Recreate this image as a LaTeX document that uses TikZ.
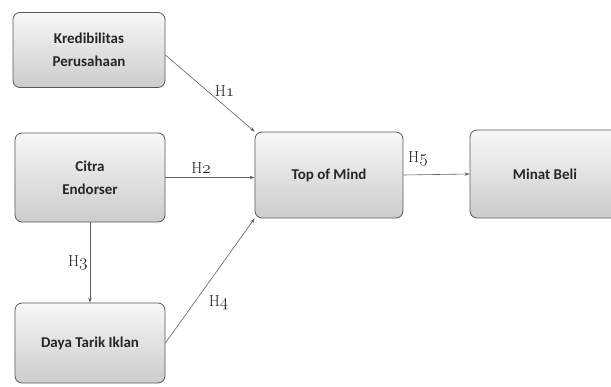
\documentclass[tikz,border=0pt]{standalone}
\usepackage{fontspec}
\setmainfont{Carlito}
\newcommand\osnum[1]{{\usefont{OML}{cmm}{m}{it}#1}}
\usetikzlibrary{arrows.meta}
\tikzset{
  varbox/.style={draw=gray!70!black, line width=0.8pt, rounded corners=7pt,
    top color=gray!6, bottom color=gray!40, align=center, text=black!85,
    font=\bfseries\fontsize{15}{23}\selectfont, inner sep=0pt},
  link/.style={draw=gray!75!black, line width=0.6pt, -{Stealth[length=5pt,width=3.5pt]}},
  hlab/.style={font=\usefont{TU}{lmr}{m}{n}\fontsize{16}{16}\selectfont, text=black!85, inner sep=1pt}
}
\begin{document}
\begin{tikzpicture}[x=1pt,y=-1pt]
\useasboundingbox (0,0) rectangle (611,386);
\node[varbox, minimum width=152pt, minimum height=75pt] (kp) at (89,50) {Kredibilitas\\Perusahaan};
\node[varbox, minimum width=150pt, minimum height=89pt] (ce) at (90,177.5) {Citra\\Endorser};
\node[varbox, minimum width=150pt, minimum height=80pt] (dt) at (90,343) {Daya Tarik Iklan};
\node[varbox, minimum width=148pt, minimum height=86pt] (tm) at (329,175) {Top of Mind};
\node[varbox, minimum width=150pt, minimum height=88pt] (mb) at (545,174) {Minat Beli};
\draw[link] (kp.east |- 0,55) -- (tm.north west) node[hlab, pos=0.55, above right=-1pt] {H\osnum{1}};
\draw[link] (ce.east) -- (tm.west |- ce.east) node[hlab, pos=0.4, above=3pt] {H\osnum{2}};
\draw[link] (ce.south) -- (dt.north) node[hlab, midway, left=1pt] {H\osnum{3}};
\draw[link] (dt.east) -- (tm.south west) node[hlab, pos=0.45, below right=2pt, yshift=-5pt] {H\osnum{4}};
\draw[link] (tm.east) -- (mb.west) node[hlab, pos=0.22, above=8pt] {H\osnum{5}};
\end{tikzpicture}
\end{document}
